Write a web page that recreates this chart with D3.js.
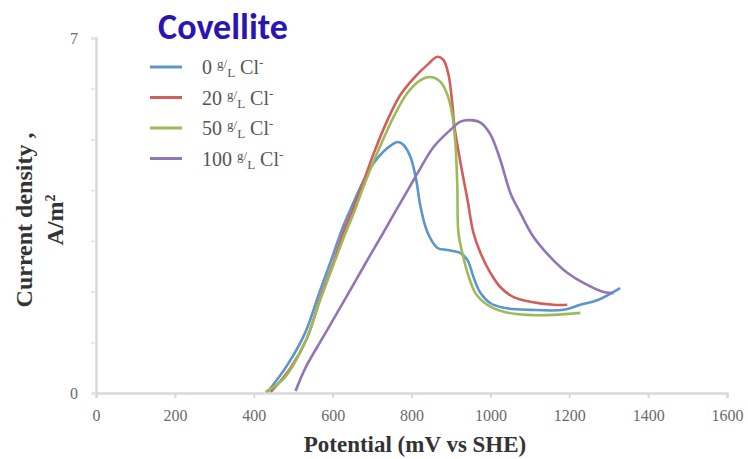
<!DOCTYPE html>
<html>
<head>
<meta charset="utf-8">
<title>Covellite</title>
<style>
  body { margin: 0; background: #fff; }
  text { font-family: "Liberation Serif", "Times New Roman", serif; }
</style>
</head>
<body>
<script src="https://d3js.org/d3.v7.min.js"></script>
<script>
// series (mV vs SHE, A/m2)
const seriesNames = ["0", "20", "50", "100"];
const colors = ["#5b95cc", "#d25e5b", "#9bbb59", "#9275b3"];

const pot0 = [435, 485, 530, 565, 600, 625, 651, 676, 704, 739, 765, 780, 798, 812, 823, 841, 866, 891, 924, 942, 957, 975, 1000, 1034, 1101, 1186, 1228, 1271, 1329];
const cur0 = [0.02, 0.55, 1.18, 1.95, 2.70, 3.25, 3.72, 4.15, 4.53, 4.83, 4.95, 4.89, 4.64, 4.20, 3.67, 3.16, 2.86, 2.82, 2.76, 2.62, 2.29, 1.97, 1.77, 1.68, 1.64, 1.64, 1.74, 1.83, 2.07];

const pot20 = [443, 492, 535, 568, 603, 628, 653, 676, 704, 739, 772, 806, 840, 866, 881, 894, 903, 909, 924, 942, 957, 975, 1000, 1025, 1059, 1101, 1160, 1195];
const cur20 = [0.02, 0.48, 1.08, 1.86, 2.60, 3.18, 3.65, 4.12, 4.72, 5.38, 5.88, 6.21, 6.47, 6.63, 6.57, 6.27, 5.74, 5.25, 4.55, 3.81, 3.16, 2.76, 2.37, 2.09, 1.89, 1.80, 1.74, 1.74];

const pot50 = [430, 478, 533, 567, 603, 630, 655, 679, 714, 755, 790, 823, 848, 874, 891, 903, 911, 916, 919, 929, 942, 962, 992, 1034, 1094, 1160, 1228];
const cur50 = [0.02, 0.30, 1.05, 1.80, 2.55, 3.10, 3.58, 4.08, 4.75, 5.45, 5.92, 6.17, 6.23, 6.13, 5.88, 5.50, 4.95, 4.14, 3.16, 2.76, 2.37, 1.97, 1.74, 1.60, 1.54, 1.54, 1.58];

const pot100 = [506, 532, 575, 615, 658, 691, 727, 760, 792, 815, 856, 899, 924, 950, 975, 1000, 1025, 1051, 1076, 1109, 1152, 1195, 1236, 1287, 1312];
const cur100 = [0.04, 0.51, 1.09, 1.63, 2.21, 2.66, 3.14, 3.59, 4.02, 4.33, 4.85, 5.19, 5.35, 5.38, 5.33, 5.10, 4.60, 3.94, 3.55, 3.08, 2.68, 2.37, 2.17, 1.99, 1.97];

const xTicks = [0, 200, 400, 600, 800, 1000, 1200, 1400, 1600];
const yTicks = [0, 1, 2, 3, 4, 5, 6, 7];
const yLabels = [0, 7];

const potentials = [pot0, pot20, pot50, pot100];
const currents = [cur0, cur20, cur50, cur100];

const width = 748, height = 459;

const svg = d3.select("body").append("svg")
    .attr("width", width)
    .attr("height", height);

const x = d3.scaleLinear().domain([0, 1600]).range([96, 727]);
const y = d3.scaleLinear().domain([0, 7]).range([393, 38]);

// x axis
const xAxis = svg.append("g")
    .attr("transform", "translate(0," + y(0) + ")")
    .call(d3.axisBottom(x).tickValues(xTicks).tickFormat(d3.format("d"))
        .tickSize(5).tickPadding(12));
xAxis.select(".domain").attr("stroke", "#d9d9d9").attr("stroke-width", 2.5);
xAxis.selectAll(".tick line").attr("stroke", "#d9d9d9").attr("stroke-width", 2);
xAxis.selectAll(".tick text")
    .attr("fill", "#6a6a6a")
    .style("font-size", "16px");

// y axis
const yAxis = svg.append("g")
    .attr("transform", "translate(" + x(0) + ",0)")
    .call(d3.axisLeft(y).tickValues(yTicks).tickSize(5).tickPadding(13)
        .tickFormat(d => yLabels.includes(d) ? d : ""));
yAxis.select(".domain").attr("stroke", "#d9d9d9").attr("stroke-width", 2.5);
yAxis.selectAll(".tick line").attr("stroke", "#e6e6e6").attr("stroke-width", 2);
yAxis.selectAll(".tick text")
    .attr("fill", "#6a6a6a")
    .style("font-size", "16px");

// curves
const line = d3.line()
    .x(d => x(d[0]))
    .y(d => y(d[1]))
    .curve(d3.curveCatmullRom.alpha(0.5));

seriesNames.forEach(function(name, i) {
    const pts = potentials[i].map((p, j) => [p, currents[i][j]]);
    svg.append("path")
        .datum(pts)
        .attr("fill", "none")
        .attr("stroke", colors[i])
        .attr("stroke-width", 2.6)
        .attr("d", line);
});

// title
svg.append("text")
    .attr("x", 223)
    .attr("y", 39)
    .attr("text-anchor", "middle")
    .style("font-family", "Carlito, 'Open Sans', sans-serif")
    .style("font-size", "36px")
    .style("font-weight", "bold")
    .attr("fill", "#2a14b4")
    .text("Covellite");

// legend
const legend = svg.append("g");
seriesNames.forEach(function(name, i) {
    const ly = 67 + i * 30.5;
    legend.append("line")
        .attr("x1", 150).attr("x2", 182)
        .attr("y1", ly).attr("y2", ly)
        .attr("stroke", colors[i])
        .attr("stroke-width", 3);
    const t = legend.append("text")
        .attr("x", 202)
        .attr("y", ly + 7)
        .attr("fill", "#555")
        .style("font-size", "20px");
    t.append("tspan").text(name + " ");
    t.append("tspan").attr("dy", -6).style("font-size", "13px").text("g");
    t.append("tspan").style("font-size", "13px").text("/");
    t.append("tspan").attr("dy", 9).style("font-size", "13px").text("L");
    t.append("tspan").attr("dy", -3).style("font-size", "20px").text(" Cl");
    t.append("tspan").attr("dy", -7).style("font-size", "13px").text("-");
});

// axis titles
svg.append("text")
    .attr("x", 415)
    .attr("y", 452)
    .attr("text-anchor", "middle")
    .style("font-size", "23px")
    .style("font-weight", "bold")
    .attr("fill", "#333")
    .text("Potential (mV vs SHE)");

const yTitle = svg.append("text")
    .attr("transform", "translate(32,220) rotate(-90)")
    .attr("text-anchor", "middle")
    .style("font-size", "24px")
    .style("font-weight", "bold")
    .attr("fill", "#333");
yTitle.append("tspan").attr("x", 0).attr("dy", 0).text("Current density ,");
const l2 = yTitle.append("tspan").attr("x", 0).attr("dy", 31);
l2.append("tspan").text("A/m");
l2.append("tspan").attr("dy", -8).style("font-size", "14px").text("2");
</script>
</body>
</html>
